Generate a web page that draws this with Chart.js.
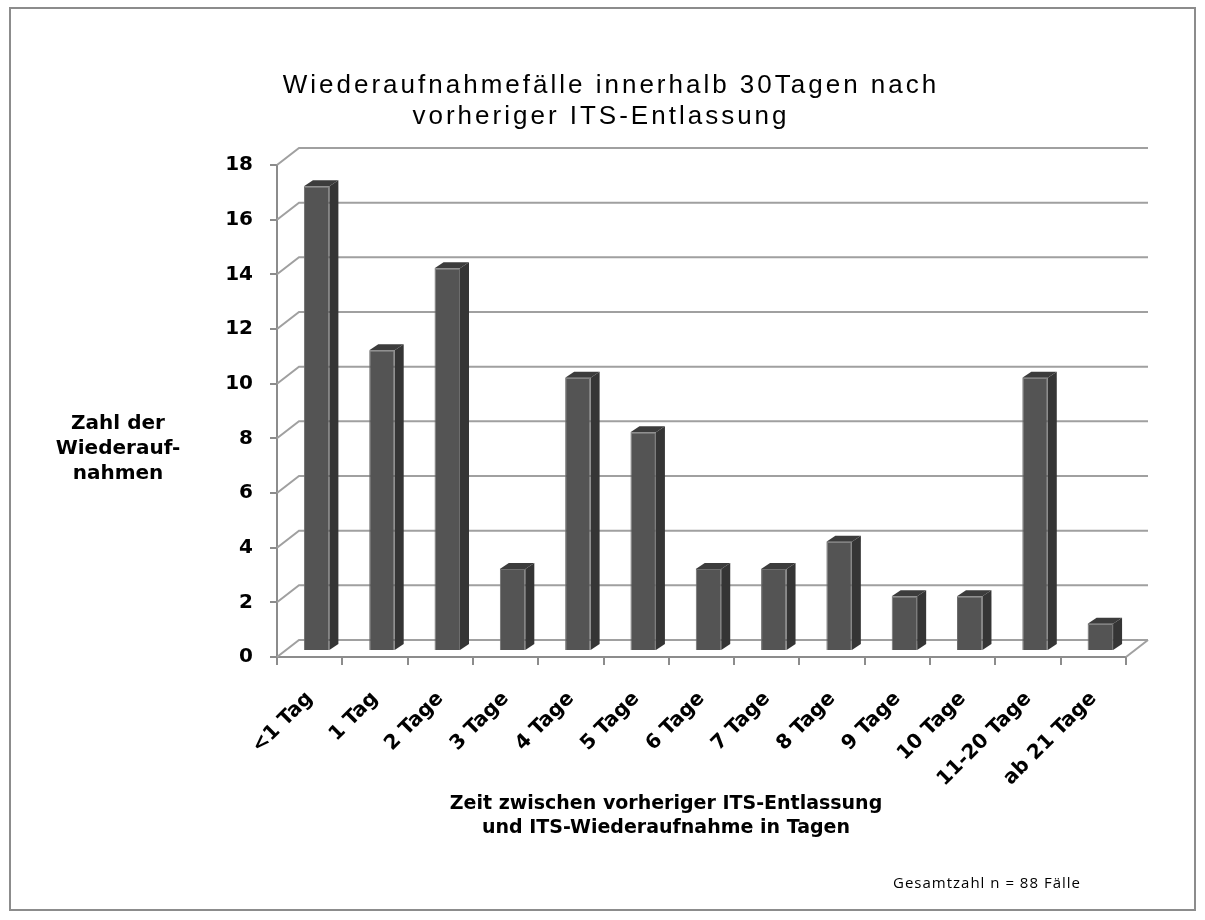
<!DOCTYPE html>
<html>
<head>
<meta charset="utf-8">
<script src="https://cdn.jsdelivr.net/npm/chart.js@4.4.1/dist/chart.umd.min.js"></script>
<style>
  html, body { margin: 0; padding: 0; background: #fff; }
  #wrap { width: 1205px; height: 920px; position: relative; }
</style>
</head>
<body>
<div id="wrap"><canvas id="readmitChart" width="1205" height="920"></canvas></div>
<script>
// Data
var categories = ['<1 Tag', '1 Tag', '2 Tage', '3 Tage', '4 Tage', '5 Tage', '6 Tage',
                  '7 Tage', '8 Tage', '9 Tage', '10 Tage', '11-20 Tage', 'ab 21 Tage'];
var readmissions = [17, 11, 14, 3, 10, 8, 3, 3, 4, 2, 2, 10, 1];
var yTicks = [0, 2, 4, 6, 8, 10, 12, 14, 16, 18];

var titleLines = ['Wiederaufnahmefälle innerhalb 30Tagen nach', 'vorheriger ITS-Entlassung'];
var yTitleLines = ['Zahl der', 'Wiederauf-', 'nahmen'];
var xTitleLines = ['Zeit zwischen vorheriger ITS-Entlassung', 'und ITS-Wiederaufnahme in Tagen'];
var footNote = 'Gesamtzahl n = 88 Fälle';

// 3D look: back wall offset and bar depth
var WALL_DX = 22, WALL_DY = -17;
var BAR_DX = 7, BAR_DY = -6;
var DEPTH_DX = 9, DEPTH_DY = -6;
var BOLD_FONT = '"DejaVu Sans", "Liberation Sans", sans-serif';

// Draws the frame, the back wall grid and all texts
var decorPlugin = {
    id: 'decor',
    beforeDraw: function (chart) {
        var ctx = chart.ctx;
        ctx.save();
        ctx.fillStyle = '#ffffff';
        ctx.fillRect(0, 0, chart.width, chart.height);
        ctx.strokeStyle = '#8c8c8c';
        ctx.lineWidth = 2;
        ctx.strokeRect(10, 8, 1185, 902);
        ctx.restore();
    },
    beforeDatasetsDraw: function (chart) {
        var ctx = chart.ctx;
        var y = chart.scales.y;
        var area = chart.chartArea;
        ctx.save();
        ctx.strokeStyle = '#a0a0a0';
        ctx.lineWidth = 2;
        yTicks.forEach(function (v) {
            var py = y.getPixelForValue(v);
            ctx.beginPath();
            ctx.moveTo(area.left, py);
            ctx.lineTo(area.left + WALL_DX, py + WALL_DY);
            ctx.lineTo(area.right + WALL_DX, py + WALL_DY);
            ctx.stroke();
        });
        // floor right edge
        var p0 = y.getPixelForValue(0);
        ctx.beginPath();
        ctx.moveTo(area.right, p0);
        ctx.lineTo(area.right + WALL_DX, p0 + WALL_DY);
        ctx.stroke();
        ctx.restore();
        // shift bars onto the middle of the floor
        ctx.save();
        ctx.translate(BAR_DX, BAR_DY);
    },
    afterDatasetsDraw: function (chart) {
        var ctx = chart.ctx;
        var meta = chart.getDatasetMeta(0);
        meta.data.forEach(function (bar) {
            var p = bar.getProps(['x', 'y', 'base', 'width'], true);
            var l = p.x - p.width / 2, r = p.x + p.width / 2;
            // top face
            ctx.fillStyle = '#3c3c3c';
            ctx.beginPath();
            ctx.moveTo(l, p.y);
            ctx.lineTo(l + DEPTH_DX, p.y + DEPTH_DY);
            ctx.lineTo(r + DEPTH_DX, p.y + DEPTH_DY);
            ctx.lineTo(r, p.y);
            ctx.closePath();
            ctx.fill();
            // side face
            ctx.fillStyle = '#353535';
            ctx.beginPath();
            ctx.moveTo(r, p.y);
            ctx.lineTo(r + DEPTH_DX, p.y + DEPTH_DY);
            ctx.lineTo(r + DEPTH_DX, p.base + DEPTH_DY);
            ctx.lineTo(r, p.base);
            ctx.closePath();
            ctx.fill();
        });
        ctx.restore();
    },
    afterDraw: function (chart) {
        var ctx = chart.ctx;
        ctx.save();
        ctx.fillStyle = '#000000';
        ctx.textAlign = 'center';
        ctx.textBaseline = 'alphabetic';

        ctx.font = '26px "Liberation Sans", Arial, sans-serif';
        ctx.letterSpacing = '3px';
        ctx.fillText(titleLines[0], 611, 93);
        ctx.fillText(titleLines[1], 601, 124);

        ctx.letterSpacing = '0px';
        ctx.font = 'bold 20px ' + BOLD_FONT;
        ctx.fillText(yTitleLines[0], 118, 429);
        ctx.fillText(yTitleLines[1], 118, 454);
        ctx.fillText(yTitleLines[2], 118, 479);

        ctx.font = 'bold 19px ' + BOLD_FONT;
        ctx.fillText(xTitleLines[0], 666, 809);
        ctx.fillText(xTitleLines[1], 666, 833);

        ctx.letterSpacing = '1px';
        ctx.font = '15px "Open Sans", sans-serif';
        ctx.textAlign = 'left';
        ctx.fillText(footNote, 893, 888);
        ctx.restore();
    }
};

var ctxReadmit = document.getElementById('readmitChart').getContext('2d');
var readmitChart = new Chart(ctxReadmit, {
    type: 'bar',
    data: {
        labels: categories,
        datasets: [{
            data: readmissions,
            backgroundColor: '#545454',
            borderColor: '#6e6e6e',
            borderWidth: 1,
            categoryPercentage: 1.0,
            barPercentage: 0.39
        }]
    },
    options: {
        responsive: false,
        animation: false,
        layout: {
            padding: { left: 0, right: 79, top: 165, bottom: 0 }
        },
        plugins: {
            legend: { display: false },
            title: { display: false },
            tooltip: { enabled: false }
        },
        scales: {
            x: {
                afterFit: function (scale) { scale.height = 920 - 657; },
                grid: {
                    display: true,
                    drawOnChartArea: false,
                    drawTicks: true,
                    tickLength: 8,
                    color: '#8c8c8c',
                    lineWidth: 2
                },
                border: { display: true, color: '#8c8c8c', width: 2 },
                ticks: {
                    minRotation: 45,
                    maxRotation: 45,
                    autoSkip: false,
                    padding: 22,
                    color: '#000',
                    font: { family: BOLD_FONT, size: 20, weight: 'bold' }
                }
            },
            y: {
                min: 0,
                max: 18,
                afterFit: function (scale) { scale.width = 277; },
                afterBuildTicks: function (scale) {
                    scale.ticks = yTicks.map(function (v) { return { value: v }; });
                },
                grid: {
                    display: true,
                    drawOnChartArea: false,
                    drawTicks: true,
                    tickLength: 7,
                    color: '#8c8c8c',
                    lineWidth: 2
                },
                border: { display: true, color: '#8c8c8c', width: 2 },
                ticks: {
                    padding: 17,
                    color: '#000',
                    font: { family: BOLD_FONT, size: 20, weight: 'bold' }
                }
            }
        }
    },
    plugins: [decorPlugin]
});
</script>
</body>
</html>
